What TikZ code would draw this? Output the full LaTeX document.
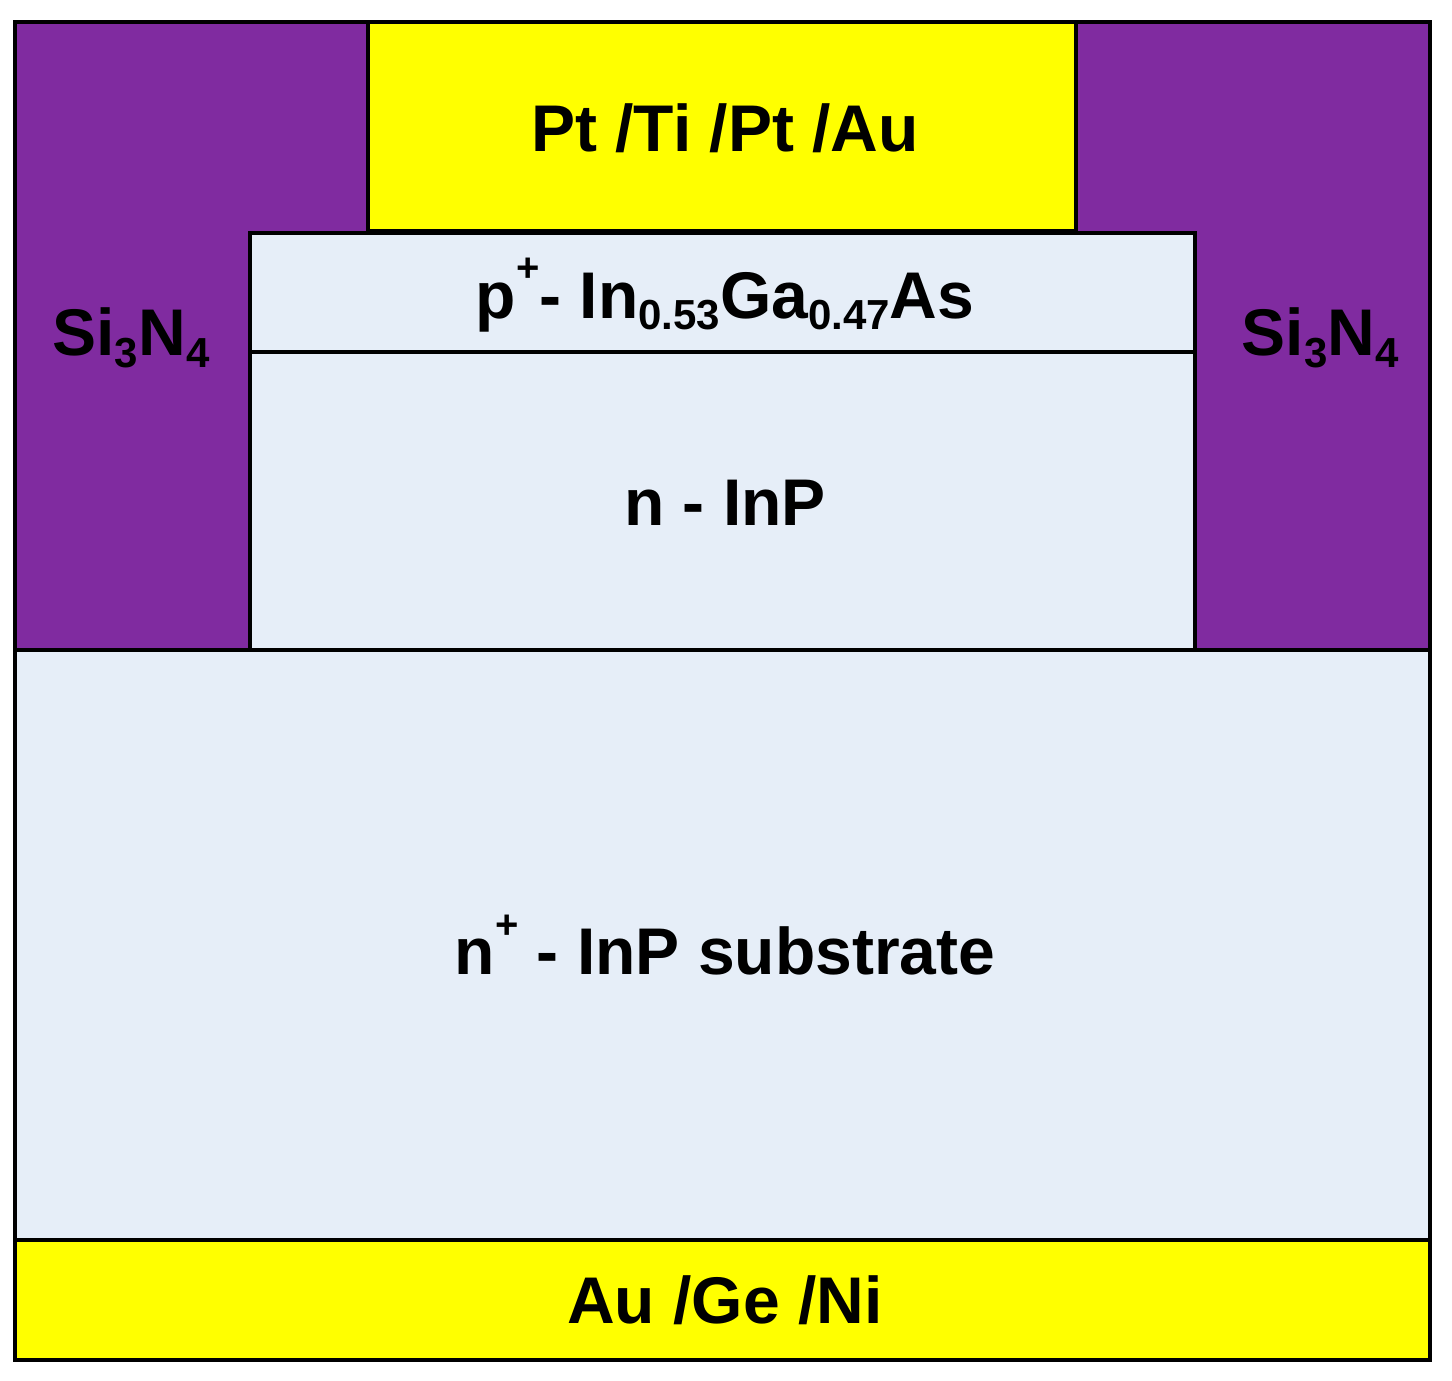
\documentclass[tikz,border=0pt]{standalone}
\usepackage{fontspec}
\setmainfont{Liberation Sans}
\definecolor{sin}{RGB}{128,43,160}
\definecolor{semi}{RGB}{230,238,248}
\definecolor{metal}{RGB}{255,255,0}
\newcommand{\mysub}[1]{\raisebox{-0.18em}{\fontsize{42}{44}\selectfont #1}}
\newcommand{\mysup}[1]{\raisebox{0.55em}{\fontsize{40}{42}\selectfont #1}}
\begin{document}
\begin{tikzpicture}[x=1pt,y=-1pt,
  layer/.style={draw=black,line width=4pt},
  lbl/.style={font=\fontsize{66}{70}\selectfont\bfseries,inner sep=0}]
\useasboundingbox (0,0) rectangle (1452,1381);
\fill[white] (0,0) rectangle (1452,1381);
\draw[layer,fill=sin] (15,22) -- (368,22) -- (368,233) -- (250,233) -- (250,650) -- (15,650) -- cycle;
\draw[layer,fill=sin] (1430,22) -- (1076,22) -- (1076,233) -- (1195,233) -- (1195,650) -- (1430,650) -- cycle;
\draw[layer,fill=metal] (368,22) rectangle (1076,231);
\draw[layer,fill=semi] (250,233) rectangle (1195,352);
\draw[layer,fill=semi] (250,352) rectangle (1195,650);
\draw[layer,fill=semi] (15,650) rectangle (1430,1240);
\draw[layer,fill=metal] (15,1240) rectangle (1430,1360);
\node[lbl] (t1) at (725,128) {Pt /Ti /Pt /Au};
\node[lbl] (t2) at (725,295) {p\mysup{+}- In\mysub{0.53}Ga\mysub{0.47}As};
\node[lbl] (t3) at (725,503) {n - InP};
\node[lbl] (t4) at (725,945) {n\mysup{+} - InP substrate};
\node[lbl] (t5) at (725,1300) {Au /Ge /Ni};
\node[lbl] (s1) at (131,338) {Si\mysub{3}N\mysub{4}};
\node[lbl] (s2) at (1320,338) {Si\mysub{3}N\mysub{4}};
\end{tikzpicture}
\end{document}
